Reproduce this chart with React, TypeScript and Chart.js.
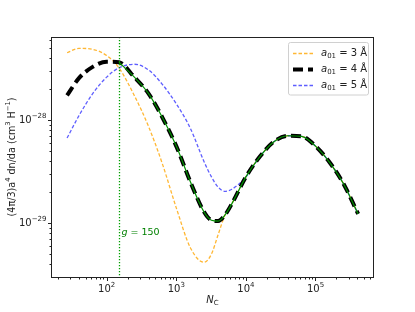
import React, { useEffect, useRef } from "react";
import { Chart, registerables } from "chart.js";

Chart.register(...registerables);

// N_C sample positions (shared)
const sizesN = [27, 40, 63, 100, 150, 250, 400, 630, 1000, 1600, 2500, 3200, 4000, 5000, 6300, 10000, 16000, 25000, 40000, 63000, 100000, 160000, 250000, 410000];

// a01 = 3 Å
const series3A = [4.54e-28, 5.01e-28, 4.9e-28, 4.27e-28, 3.24e-28, 1.74e-28, 8.71e-29, 3.8e-29, 1.41e-29, 5.75e-30, 4.17e-30, 5.01e-30, 7.76e-30, 1.2e-29, 1.55e-29, 2.82e-29, 4.47e-29, 6.17e-29, 7.08e-29, 7.0e-29, 5.62e-29, 3.89e-29, 2.45e-29, 1.23e-29];
// a01 = 4 Å
const series4A = [1.75e-28, 2.57e-28, 3.31e-28, 3.72e-28, 3.67e-28, 2.63e-28, 1.82e-28, 1.07e-28, 5.62e-29, 2.51e-29, 1.29e-29, 1.07e-29, 1.05e-29, 1.2e-29, 1.55e-29, 2.82e-29, 4.47e-29, 6.17e-29, 7.08e-29, 7.0e-29, 5.62e-29, 3.89e-29, 2.45e-29, 1.23e-29];
// a01 = 5 Å
const series5A = [6.73e-29, 1.11e-28, 1.82e-28, 2.63e-28, 3.24e-28, 3.51e-28, 3.09e-28, 2.24e-28, 1.45e-28, 8.32e-29, 3.98e-29, 2.82e-29, 2.24e-29, 2.04e-29, 2.14e-29, 2.82e-29, 4.47e-29, 6.17e-29, 7.08e-29, 7.0e-29, 5.62e-29, 3.89e-29, 2.45e-29, 1.23e-29];

const gValue = 150;
const legendLabels = ["3 Å", "4 Å", "5 Å"];
const xMajorTicks = [100, 1000, 10000, 100000];
const yMajorTicks = [1e-29, 1e-28];

const X_MIN = 16.4;
const X_MAX = 6.7e5;
const Y_MIN = 3.24e-30;
const Y_MAX = 6.46e-28;

const FONT = '"DejaVu Sans", sans-serif';

type Part = { t: string; it?: boolean; sup?: boolean; sub?: boolean };

function drawRich(ctx: CanvasRenderingContext2D, parts: Part[], x: number, y: number, align: "left" | "center" | "right", size: number, color: string) {
  ctx.save();
  ctx.fillStyle = color;
  ctx.textBaseline = "middle";
  ctx.textAlign = "left";
  const fonts = parts.map((p) => `${p.it ? "italic " : ""}${(p.sup || p.sub ? size * 0.7 : size).toFixed(2)}px ${FONT}`);
  const widths = parts.map((p, i) => {
    ctx.font = fonts[i];
    return ctx.measureText(p.t).width;
  });
  const total = widths.reduce((a, b) => a + b, 0);
  let cx = align === "center" ? x - total / 2 : align === "right" ? x - total : x;
  parts.forEach((p, i) => {
    ctx.font = fonts[i];
    const dy = p.sup ? -size * 0.38 : p.sub ? size * 0.28 : 0;
    ctx.fillText(p.t, cx, y + dy);
    cx += widths[i];
  });
  ctx.restore();
  return total;
}

function supLabel(v: number): Part[] {
  const e = Math.round(Math.log10(v));
  return [{ t: "10" }, { t: e < 0 ? "\u2212" + Math.abs(e) : String(e), sup: true }];
}

const decorPlugin = {
  id: "decor",
  afterDatasetsDraw(chart: any) {
    const ctx: CanvasRenderingContext2D = chart.ctx;
    const xs = chart.scales.x;
    const { top, bottom } = chart.chartArea;

    const gx = Math.round(xs.getPixelForValue(gValue)) + 0.5;
    ctx.save();
    ctx.strokeStyle = "#00a000";
    ctx.lineWidth = 1.3;
    ctx.setLineDash([1.3, 1.7]);
    ctx.beginPath();
    ctx.moveTo(gx, top);
    ctx.lineTo(gx, bottom);
    ctx.stroke();
    ctx.restore();

    drawRich(ctx, [{ t: "g", it: true }, { t: " = 150" }], gx + 2, 233, "left", 9.5, "#008000");
  },
  afterDraw(chart: any) {
    const ctx: CanvasRenderingContext2D = chart.ctx;
    const xs = chart.scales.x;
    const ys = chart.scales.y;
    const { left, right, top, bottom } = chart.chartArea;
    const L = Math.round(left) - 0.5;
    const R = Math.round(right) + 0.5;
    const T = Math.round(top) + 0.5;
    const B = Math.round(bottom) + 0.5;

    ctx.save();
    ctx.strokeStyle = "#222";
    ctx.lineWidth = 1;
    ctx.strokeRect(L, T, R - L, B - T);

    for (let d = 1; d <= 6; d++) {
      for (let m = 1; m <= 9; m++) {
        const v = m * Math.pow(10, d);
        if (v < X_MIN || v > X_MAX) continue;
        const px = Math.round(xs.getPixelForValue(v)) + 0.5;
        const len = m === 1 ? 3.5 : 2;
        ctx.beginPath();
        ctx.moveTo(px, B);
        ctx.lineTo(px, B + len);
        ctx.stroke();
      }
    }
    for (let d = -31; d <= -27; d++) {
      for (let m = 1; m <= 9; m++) {
        const v = m * Math.pow(10, d);
        if (v < Y_MIN || v > Y_MAX) continue;
        const py = Math.round(ys.getPixelForValue(v)) + 0.5;
        const len = m === 1 ? 3.5 : 2;
        ctx.beginPath();
        ctx.moveTo(L, py);
        ctx.lineTo(L - len, py);
        ctx.stroke();
      }
    }
    ctx.restore();

    xMajorTicks.forEach((v) => {
      drawRich(ctx, supLabel(v), xs.getPixelForValue(v), 289, "center", 10, "#222");
    });
    yMajorTicks.forEach((v) => {
      drawRich(ctx, supLabel(v), L - 5, ys.getPixelForValue(v), "right", 10, "#222");
    });

    drawRich(ctx, [{ t: "N", it: true }, { t: "C", sub: true }], (left + right) / 2, 300, "center", 10, "#222");

    ctx.save();
    ctx.translate(12, (top + bottom) / 2);
    ctx.rotate(-Math.PI / 2);
    drawRich(
      ctx,
      [{ t: "(4\u03c0/3)a" }, { t: "4", sup: true }, { t: " dn/da (cm" }, { t: "3", sup: true }, { t: " H" }, { t: "\u22121", sup: true }, { t: ")" }],
      0,
      0,
      "center",
      9.6,
      "#222"
    );
    ctx.restore();

    const bx = 288.5, by = 42.5, bw = 80, bh = 52.5;
    ctx.save();
    ctx.fillStyle = "rgba(255,255,255,0.85)";
    ctx.strokeStyle = "#d0d0d0";
    ctx.lineWidth = 1;
    ctx.beginPath();
    (ctx as any).roundRect(bx, by, bw, bh, 2);
    ctx.fill();
    ctx.stroke();
    ctx.restore();
    const rows = [53.5, 69.5, 85.5];
    const ds = chart.data.datasets;
    [0, 1, 2].forEach((di, i) => {
      const d = ds[di];
      ctx.save();
      ctx.strokeStyle = d.borderColor;
      ctx.lineWidth = d.borderWidth;
      ctx.setLineDash(d.borderDash || []);
      ctx.beginPath();
      ctx.moveTo(293, rows[i]);
      ctx.lineTo(313, rows[i]);
      ctx.stroke();
      ctx.restore();
      drawRich(ctx, [{ t: "a", it: true }, { t: "01", sub: true }, { t: " = " + legendLabels[i] }], 321, rows[i] - 0.5, "left", 10, "#222");
    });
  },
};

export default function App() {
  const ref = useRef<HTMLCanvasElement | null>(null);
  useEffect(() => {
    if (!ref.current) return;
    const pts = (ys: number[]) => sizesN.map((x, i) => ({ x, y: ys[i] }));
    const gStart = sizesN.indexOf(gValue);
    const chart = new Chart(ref.current, {
      type: "line",
      data: {
        datasets: [
          {
            label: "a01 = 3 Å",
            data: pts(series3A),
            borderColor: "rgba(255,165,0,0.8)",
            borderWidth: 1.3,
            borderDash: [3.5, 2],
            pointRadius: 0,
            cubicInterpolationMode: "monotone",
            order: 4,
          },
          {
            label: "a01 = 4 Å",
            data: pts(series4A),
            borderColor: "#000",
            borderWidth: 4,
            borderDash: [10, 5],
            pointRadius: 0,
            cubicInterpolationMode: "monotone",
            order: 2,
          },
          {
            label: "a01 = 5 Å",
            data: pts(series5A),
            borderColor: "rgba(40,40,255,0.75)",
            borderWidth: 1.3,
            borderDash: [3.5, 2],
            pointRadius: 0,
            cubicInterpolationMode: "monotone",
            order: 3,
          },
          {
            label: "g",
            data: sizesN.slice(gStart).map((x, i) => ({ x, y: series4A[gStart + i] })),
            borderColor: "#009000",
            borderWidth: 1.2,
            pointRadius: 0,
            cubicInterpolationMode: "monotone",
            order: 1,
          },
        ],
      },
      options: {
        animation: false,
        responsive: true,
        maintainAspectRatio: false,
        layout: { padding: { top: 37, right: 42, left: 0, bottom: 0 } },
        plugins: { legend: { display: false }, tooltip: { enabled: false } },
        scales: {
          x: {
            type: "logarithmic",
            min: X_MIN,
            max: X_MAX,
            grid: { display: false },
            border: { display: false },
            ticks: { display: false },
            afterFit: (s: any) => {
              s.height = 35;
            },
          },
          y: {
            type: "logarithmic",
            min: Y_MIN,
            max: Y_MAX,
            grid: { display: false },
            border: { display: false },
            ticks: { display: false },
            afterFit: (s: any) => {
              s.width = 52;
            },
          },
        },
      },
      plugins: [decorPlugin],
    } as any);
    return () => chart.destroy();
  }, []);
  return (
    <div style={{ position: "absolute", left: 0, top: 0, width: 415, height: 312, background: "#fff" }}>
      <canvas ref={ref} />
    </div>
  );
}
